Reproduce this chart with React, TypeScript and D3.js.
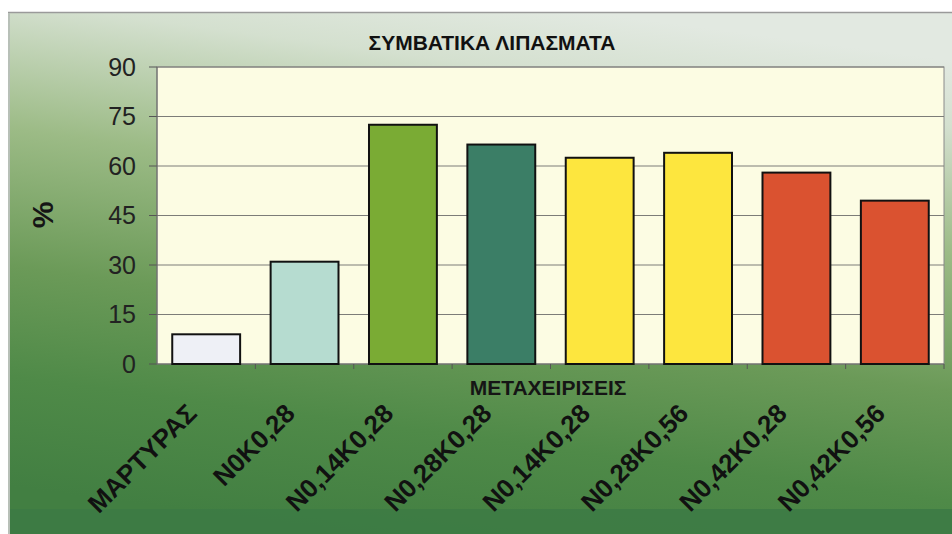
import React from "react";
import * as d3 from "d3";

const categories = ["ΜΑΡΤΥΡΑΣ", "N0K0,28", "N0,14K0,28", "N0,28K0,28", "N0,14K0,28", "N0,28K0,56", "N0,42K0,28", "N0,42K0,56"];
const values = [9, 31, 72.5, 66.5, 62.5, 64, 58, 49.5];
const barColors = ["#eef0f6", "#b6dcd0", "#7aab34", "#3b7e66", "#fde63e", "#fde63e", "#da5230", "#da5230"];
const yTicks = [0, 15, 30, 45, 60, 75, 90];
const title = "ΣΥΜΒΑΤΙΚΑ ΛΙΠΑΣΜΑΤΑ";
const xTitle = "ΜΕΤΑΧΕΙΡΙΣΕΙΣ";
const yTitle = "%";

const W = 952;
const H = 534;
const plot = { left: 157, right: 944, top: 67, bottom: 364 };

export default function App() {
  const x = d3.scaleBand<number>().domain(d3.range(categories.length)).range([plot.left, plot.right]).paddingInner(0.31).paddingOuter(0.155);
  const xc = d3.scaleBand<number>().domain(d3.range(categories.length)).range([plot.left, plot.right]);
  const y = d3.scaleLinear().domain([0, 90]).range([plot.bottom, plot.top]);
  const font = "'Liberation Sans', Arial, sans-serif";
  return (
    <svg width={W} height={H} style={{ position: "fixed", left: 0, top: 0, display: "block" }}>
      <defs>
        <linearGradient id="bg" x1="0.62" y1="0" x2="0.38" y2="1">
          <stop offset="0" stopColor="#e2e9e1" />
          <stop offset="0.12" stopColor="#d4e0cf" />
          <stop offset="0.35" stopColor="#9cbb86" />
          <stop offset="0.6" stopColor="#6b9a58" />
          <stop offset="0.8" stopColor="#4f8a48" />
          <stop offset="1" stopColor="#427f42" />
        </linearGradient>
      </defs>
      <rect x={0} y={0} width={W} height={H} fill="#ffffff" />
      <rect x={9} y={13} width={W - 9} height={H - 13} fill="url(#bg)" />
      <line x1={8} x2={W} y1={12.5} y2={12.5} stroke="#9a9a9a" strokeWidth={1.5} />
      <line x1={9} x2={9} y1={13} y2={H} stroke="#b8c0b8" strokeWidth={2} />
      <rect x={10} y={509} width={W - 10} height={H - 509} fill="#3d7b45" opacity={0.9} />
      <text x={492} y={50} textAnchor="middle" fontFamily={font} fontWeight="bold" fontSize={21} fill="#111">{title}</text>
      <rect x={plot.left} y={plot.top} width={plot.right - plot.left} height={plot.bottom - plot.top} fill="#fcfce3" stroke="#8a8a8a" strokeWidth={1} />
      {yTicks.map((t) => (
        <g key={t}>
          {t > 0 && <line x1={plot.left} x2={plot.right} y1={y(t)} y2={y(t)} stroke="#7c7c78" strokeWidth={1} />}
          <line x1={plot.left - 8} x2={plot.left} y1={y(t)} y2={y(t)} stroke="#555" strokeWidth={1} />
          <text x={136} y={y(t)} dy="0.35em" textAnchor="end" fontFamily={font} fontSize={25} fill="#222">{t}</text>
        </g>
      ))}
      <line x1={plot.left} x2={plot.left} y1={plot.top} y2={plot.bottom} stroke="#666" strokeWidth={1} />
      <line x1={plot.left} x2={plot.right} y1={plot.bottom} y2={plot.bottom} stroke="#666" strokeWidth={1} />
      {categories.map((c, i) => (
        <line key={"t" + i} x1={(xc(i) as number) + xc.bandwidth()} x2={(xc(i) as number) + xc.bandwidth()} y1={plot.bottom} y2={plot.bottom + 5} stroke="#555" />
      ))}
      {values.map((v, i) => (
        <rect key={i} x={x(i)} y={y(v)} width={x.bandwidth()} height={y(0) - y(v)} fill={barColors[i]} stroke="#111" strokeWidth={2} />
      ))}
      {categories.map((c, i) => {
        const cx = (xc(i) as number) + xc.bandwidth() / 2 - 8;
        const cy = 415;
        return (
          <text key={"l" + i} x={cx} y={cy} textAnchor="end" transform={`rotate(-45 ${cx} ${cy})`} fontFamily={font} fontWeight="bold" fontSize={26} fill="#111">{c}</text>
        );
      })}
      <text x={548} y={395} textAnchor="middle" fontFamily={font} fontWeight="bold" fontSize={21} fill="#151515">{xTitle}</text>
      <text x={0} y={0} transform={`translate(53 215) rotate(-90)`} textAnchor="middle" fontFamily={font} fontWeight="bold" fontSize={30} fill="#151515">{yTitle}</text>
    </svg>
  );
}
